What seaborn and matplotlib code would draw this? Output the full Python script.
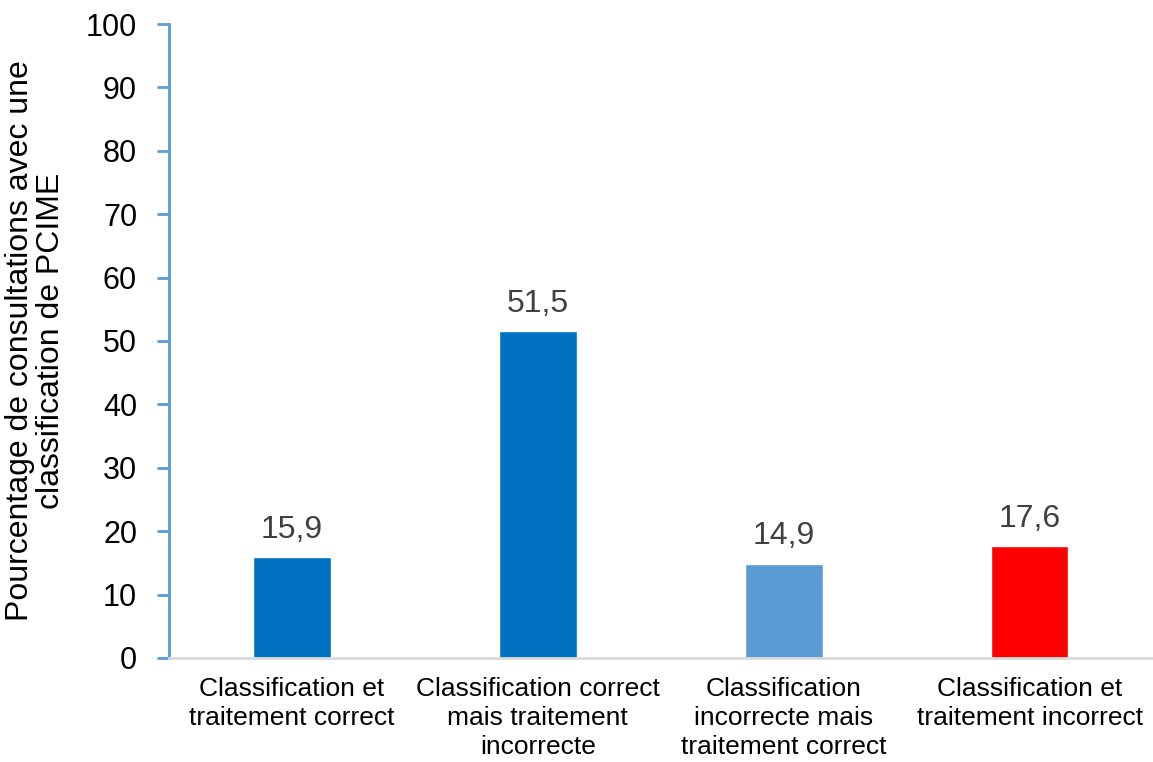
import matplotlib
matplotlib.use("Agg")
import matplotlib.pyplot as plt
import seaborn as sns
import pandas as pd

categories = ["Classification et\ntraitement correct",
              "Classification correct\nmais traitement\nincorrecte",
              "Classification\nincorrecte mais\ntraitement correct",
              "Classification et\ntraitement incorrect"]
values = [15.9, 51.5, 14.9, 17.6]
labels = ["15,9", "51,5", "14,9", "17,6"]
colors = ["#0070C0", "#0070C0", "#5B9BD5", "#FF0000"]

sns.set_style("white")
plt.rcParams['font.family'] = ['Liberation Sans', 'DejaVu Sans']

df = pd.DataFrame({"cat": categories, "val": values})
fig = plt.figure(figsize=(11.53, 7.62), dpi=100)
ax = fig.add_axes([0.1466, 0.1365, 0.853, 0.832])
sns.barplot(data=df, x="cat", y="val", hue="cat", palette=colors, width=0.316,
            legend=False, ax=ax, saturation=1)
ax.set_ylim(0, 100)
ax.set_xlim(-0.5, 3.5)
ax.set_yticks(range(0, 101, 10))
ax.tick_params(axis='y', labelsize=22, length=9, width=2, color="#5B9BD5",
               labelcolor="black", direction='out', left=True, pad=14)
ax.tick_params(axis='x', labelsize=19, length=0, pad=14, labelcolor="black")
for t in ax.get_xticklabels():
    t.set_linespacing(1.25)
ax.set_xlabel("")
ax.set_ylabel("Pourcentage de consultations avec une\nclassification de PCIME",
              fontsize=23, labelpad=14, color="black", linespacing=1.05)
for s in ["top", "right"]:
    ax.spines[s].set_visible(False)
ax.spines["left"].set_color("#5B9BD5")
ax.spines["left"].set_linewidth(2)
ax.spines["bottom"].set_color("#D9D9D9")
ax.spines["bottom"].set_linewidth(2)
for i, (v, l) in enumerate(zip(values, labels)):
    ax.annotate(l, (i, v), xytext=(0, 9), textcoords="offset points",
                ha="center", va="bottom", fontsize=23, color="#404040")
fig.savefig("out.png", dpi=100)
